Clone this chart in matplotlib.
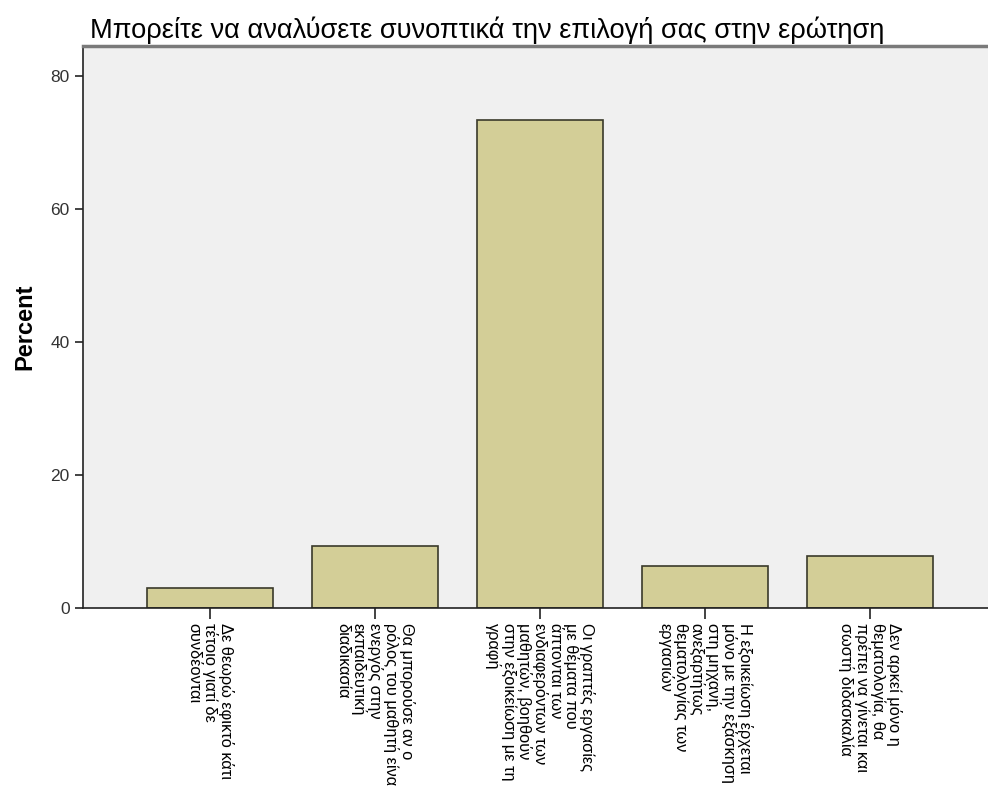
import matplotlib.pyplot as plt

plt.rcParams['font.family'] = ['Liberation Sans', 'DejaVu Sans']

categories = [
    'Δε θεωρώ εφικτό κάτι\nτέτοιο γιατί δε\nσυνδέονται',
    'Θα μπορούσε αν ο\nρόλος του μαθητή είνα\nενεργός στην\nεκπαιδευτική\nδιαδικασία',
    'Οι γραπτές εργασίες\nμε θέματα που\nάπτονται των\nενδιαφερόντων των\nμαθητών, βοηθούν\nστην εξοικείωση με τη\nγραφή',
    'Η εξοικείωση έρχεται\nμόνο με την εξάσκηση\nστη μηχανή,\nανεξαρτήτως\nθεματολογίας των\nεργασιών',
    'Δεν αρκεί μόνο η\nθεματολογία, θα\nπρέπει να γίνεται και\nσωστή διδασκαλία',
]
percent = [3.1, 9.4, 73.4, 6.3, 7.8]
yticks = [0, 20, 40, 60, 80]

fig = plt.figure(figsize=(9.88, 7.94), dpi=100)
ax = fig.add_axes([0.084, 0.234, 0.916, 0.708])
ax.set_facecolor('#f0f0f0')

x = range(len(categories))
ax.bar(x, percent, width=0.76, color='#d3ce97', edgecolor='#3a3a2a', linewidth=1.2, zorder=2)

ax.set_xlim(-0.77, 4.715)
ax.set_ylim(0, 84.5)
ax.set_yticks(yticks)
ax.set_yticklabels([str(v) for v in yticks], fontsize=12.5, color='#333333')
ax.set_xticks(list(x))
ax.set_xticklabels(categories, rotation=270, fontsize=11.8, va='top', ha='center',
                   multialignment='left', linespacing=1.0)
ax.tick_params(axis='both', direction='out', length=6, width=1.2, color='#222222')
ax.tick_params(axis='x', length=8, pad=3)

ax.spines['top'].set_color('#7a7a7a')
ax.spines['top'].set_linewidth(2.5)
ax.spines['right'].set_visible(False)
ax.spines['left'].set_color('#222222')
ax.spines['bottom'].set_color('#222222')
ax.spines['left'].set_linewidth(1.2)
ax.spines['bottom'].set_linewidth(1.2)

ax.set_ylabel('Percent', fontsize=17, fontweight='bold', labelpad=10)
fig.text(0.091, 0.962, 'Μπορείτε να αναλύσετε συνοπτικά την επιλογή σας στην ερώτηση',
         fontsize=19.6, ha='left', va='center')

fig.savefig('out.png', dpi=100)
